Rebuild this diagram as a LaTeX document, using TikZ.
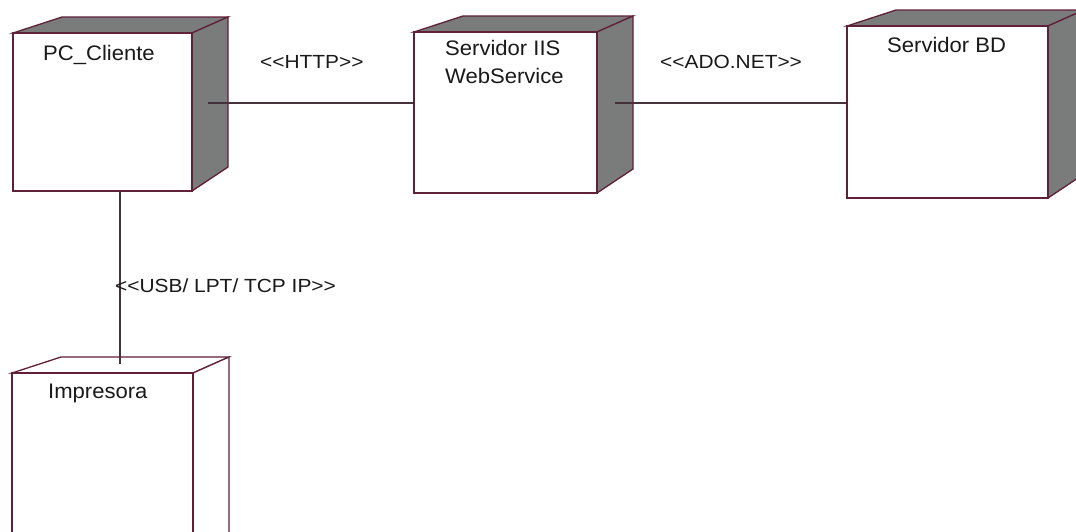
\documentclass[tikz,border=0pt]{standalone}
\usepackage{fontspec}
\setmainfont{Liberation Sans}
\newfontfamily\namefont[FakeStretch=1.05]{Liberation Sans}
\newfontfamily\stereofont[FakeStretch=1.1]{Liberation Sans}
\usetikzlibrary{calc}

\definecolor{edgemaroon}{RGB}{96,32,56}
\definecolor{sidegray}{RGB}{122,124,124}
\definecolor{linkdark}{RGB}{70,50,58}
\definecolor{labelink}{RGB}{25,25,25}

\tikzset{
  front/.style={draw=edgemaroon, line width=1.6pt, fill=white, inner sep=0pt, outer sep=0pt},
  shade3d/.style={draw=edgemaroon, line width=1.3pt, fill=sidegray, line join=miter},
  plain3d/.style={draw=edgemaroon, line width=1.3pt, fill=white, line join=miter},
  conn/.style={draw=linkdark, line width=1.3pt},
  nodename/.style={anchor=base west, inner sep=0pt, text=labelink, font=\namefont\fontsize{21}{27}\selectfont},
  stereo/.style={anchor=base west, inner sep=0pt, text=labelink, font=\stereofont\fontsize{19}{23}\selectfont},
}

% depth of the 3D box: back top-left, back top-right, back bottom-right
\newcommand\boxfaces[2]{%
  \path[#2] (#1.north west) -- ++(49,-16) -- ($(#1.north east)+(36,-16)$) -- (#1.north east) -- cycle;
  \path[#2] (#1.north east) -- ($(#1.north east)+(36,-16)$) -- ($(#1.south east)+(36,-24)$) -- (#1.south east) -- cycle;
}

\begin{document}
\begin{tikzpicture}[x=1pt,y=-1pt]
  \fill[white] (0,0) rectangle (1076,531);
  \useasboundingbox (0,0) rectangle (1076,531);
  \clip (0,0) rectangle (1076,531);

  % front faces of the deployment nodes
  \node[front, minimum width=179pt, minimum height=158pt] (pc)  at (102.5,112) {};
  \node[front, minimum width=183pt, minimum height=161pt] (iis) at (505.5,112.5) {};
  \node[front, minimum width=201pt, minimum height=172pt] (bd)  at (947.5,112) {};
  \node[front, minimum width=181pt, minimum height=190pt] (imp) at (102.5,468) {};

  % top and side faces
  \boxfaces{pc}{shade3d}
  \boxfaces{iis}{shade3d}
  \boxfaces{bd}{shade3d}
  \boxfaces{imp}{plain3d}

  % connection ports on the side / top faces
  \coordinate (lvl) at (0,103);
  \coordinate (pcport)  at ($(pc.east |- lvl)+(16,0)$);
  \coordinate (iisport) at ($(iis.east |- lvl)+(18,0)$);
  \coordinate (impport) at ($(imp.north west)+(108,-9)$);

  % connectors
  \draw[conn] (pcport) -- (iis.west |- lvl);
  \draw[conn] (iisport) -- (bd.west |- lvl);
  \draw[conn] (pc.south west -| impport) -- (impport);

  % redraw front outlines on top
  \foreach \n in {pc,iis,bd,imp} \draw[edgemaroon, line width=1.6pt] (\n.north west) rectangle (\n.south east);

  % node names
  \node[nodename] (pcname)  at (43,60) {PC\_Cliente};
  \node[nodename] (iisname) at (445,55) {Servidor IIS};
  \node[nodename] (iisweb)  at (445,83) {WebService};
  \node[nodename] (bdname)  at (887,52) {Servidor BD};
  \node[nodename] (impname) at (48,398) {Impresora};

  % stereotypes of the links
  \node[stereo] (http) at (260,68) {<<HTTP>>};
  \node[stereo] (ado)  at (660,68) {<<ADO.NET>>};
  \node[stereo] (usb)  at (115,292) {<<USB/ LPT/ TCP IP>>};
\end{tikzpicture}
\end{document}
